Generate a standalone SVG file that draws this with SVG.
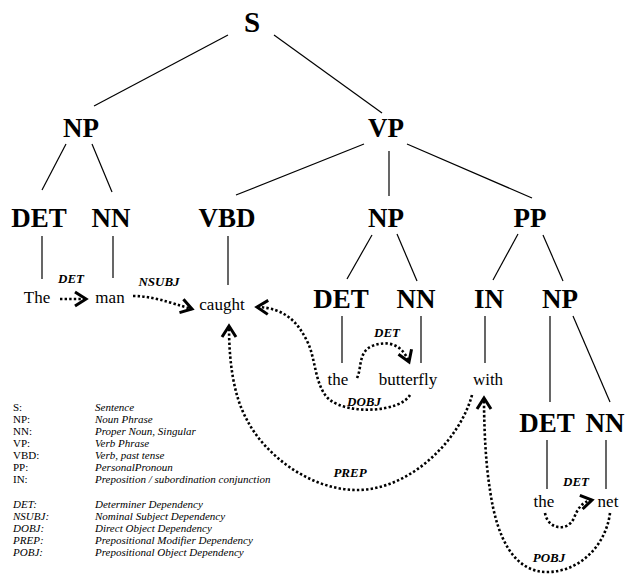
<svg xmlns="http://www.w3.org/2000/svg" width="627" height="577" viewBox="0 0 627 577">
<style>
text{font-family:'Liberation Serif',Tinos,'Times New Roman',Times,'Nimbus Roman','Nimbus Roman No9 L',FreeSerif,'Noto Serif','DejaVu Serif',Georgia,serif;fill:#000}
.ph{font-weight:bold;font-size:27px;text-anchor:middle}
.w{font-size:17px;text-anchor:middle}
.dl{font-weight:bold;font-style:italic;font-size:13px;text-anchor:middle}
.lg{font-size:11px}
.it{font-style:italic}
.tl{stroke:#000;stroke-width:1.2;fill:none}
.dep{stroke:#000;stroke-width:2.6;fill:none;stroke-dasharray:2.4 2.2;marker-end:url(#chev)}
</style>
<defs>
<marker id="chev" markerUnits="userSpaceOnUse" markerWidth="20" markerHeight="20" refX="0" refY="0" viewBox="-14 -10 20 20" orient="auto">
<path d="M-11,-7 L0,0 L-11,7" fill="none" stroke="#000" stroke-width="3"/>
</marker>
</defs>
<g id="tree-lines">
<path class="tl" d="M228,35 L94,106"/>
<path class="tl" d="M274,35 L382,113"/>
<path class="tl" d="M66,144 L42,190"/>
<path class="tl" d="M92,144 L112,192"/>
<path class="tl" d="M364,144 L236,195"/>
<path class="tl" d="M389,151 L389,196"/>
<path class="tl" d="M407,144 L532,198"/>
<path class="tl" d="M42,236 L42,279"/>
<path class="tl" d="M113,236 L113,278"/>
<path class="tl" d="M228,236 L228,285"/>
<path class="tl" d="M372,235 L347,279"/>
<path class="tl" d="M397,234 L417,281"/>
<path class="tl" d="M518,234 L493,280"/>
<path class="tl" d="M543,235 L563,281"/>
<path class="tl" d="M342,316 L342,363"/>
<path class="tl" d="M421,316 L421,363"/>
<path class="tl" d="M485,316 L485,363"/>
<path class="tl" d="M550,316 L550,402"/>
<path class="tl" d="M573,316 L610,402"/>
<path class="tl" d="M547,440 L547,489"/>
<path class="tl" d="M606,440 L606,489"/>
</g>
<g id="n-S"><text class="ph" x="252" y="32" style="font-size:29px">S</text></g>
<g id="n-NP1"><text class="ph" x="81" y="137">NP</text></g>
<g id="n-VP"><text class="ph" x="386" y="137">VP</text></g>
<g id="n-DET1"><text class="ph" x="39" y="227">DET</text></g>
<g id="n-NN1"><text class="ph" x="111" y="227">NN</text></g>
<g id="n-VBD"><text class="ph" x="227" y="227">VBD</text></g>
<g id="n-NP2"><text class="ph" x="386" y="227">NP</text></g>
<g id="n-PP"><text class="ph" x="530" y="227">PP</text></g>
<g id="n-DET2"><text class="ph" x="341" y="308">DET</text></g>
<g id="n-NN2"><text class="ph" x="416" y="308">NN</text></g>
<g id="n-IN"><text class="ph" x="489" y="308">IN</text></g>
<g id="n-NP3"><text class="ph" x="560" y="308">NP</text></g>
<g id="n-DET3"><text class="ph" x="547" y="432">DET</text></g>
<g id="n-NN3"><text class="ph" x="605" y="432">NN</text></g>
<g id="w-The"><text class="w" x="37" y="303">The</text></g>
<g id="w-man"><text class="w" x="110" y="303">man</text></g>
<g id="w-caught"><text class="w" x="222" y="310">caught</text></g>
<g id="w-the1"><text class="w" x="338" y="385">the</text></g>
<g id="w-butterfly"><text class="w" x="408" y="385">butterfly</text></g>
<g id="w-with"><text class="w" x="488" y="385">with</text></g>
<g id="w-the2"><text class="w" x="544" y="507">the</text></g>
<g id="w-net"><text class="w" x="608" y="507">net</text></g>
<g id="dependencies">
<path class="dep" d="M60,299 L86,299"/>
<path class="dep" d="M133,296 C152,296 168,302 192,309"/>
<path class="dep" d="M410,395 C400,412 350,415 330,400 C315,388 316,360 308,343 C298,322 285,308 257,307"/>
<path class="dep" d="M357,378 C362,368 358,352 372,346 C388,340 402,344 409,362"/>
<path class="dep" d="M472,395 C460,440 410,490 357,490 C310,490 265,455 247,420 C233,395 229,360 229,326"/>
<path class="dep" d="M610,513 C606,545 580,572 547,572 C515,572 497,540 490,490 C485,460 484,420 484,398"/>
<path class="dep" d="M545,513 C548,530 568,532 574,518 C578,508 582,502 592,500"/>
<text class="dl" x="71" y="283">DET</text>
<text class="dl" x="159" y="286">NSUBJ</text>
<text class="dl" x="387" y="337">DET</text>
<text class="dl" x="364" y="406">DOBJ</text>
<text class="dl" x="350" y="477">PREP</text>
<text class="dl" x="549" y="562">POBJ</text>
<text class="dl" x="576" y="486">DET</text>
</g>
<g id="legend">
<text class="lg" x="13" y="411">S:</text><text class="lg it" x="95" y="411">Sentence</text>
<text class="lg" x="13" y="423">NP:</text><text class="lg it" x="95" y="423">Noun Phrase</text>
<text class="lg" x="13" y="435">NN:</text><text class="lg it" x="95" y="435">Proper Noun, Singular</text>
<text class="lg" x="13" y="447">VP:</text><text class="lg it" x="95" y="447">Verb Phrase</text>
<text class="lg" x="13" y="459">VBD:</text><text class="lg it" x="95" y="459">Verb, past tense</text>
<text class="lg" x="13" y="471">PP:</text><text class="lg it" x="95" y="471">PersonalPronoun</text>
<text class="lg" x="13" y="483">IN:</text><text class="lg it" x="95" y="483">Preposition / subordination conjunction</text>
<text class="lg it" x="13" y="508">DET:</text><text class="lg it" x="95" y="508">Determiner Dependency</text>
<text class="lg it" x="13" y="520">NSUBJ:</text><text class="lg it" x="95" y="520">Nominal Subject Dependency</text>
<text class="lg it" x="13" y="532">DOBJ:</text><text class="lg it" x="95" y="532">Direct Object Dependency</text>
<text class="lg it" x="13" y="544">PREP:</text><text class="lg it" x="95" y="544">Prepositional Modifier Dependency</text>
<text class="lg it" x="13" y="556">POBJ:</text><text class="lg it" x="95" y="556">Prepositional Object Dependency</text>
</g>
</svg>
